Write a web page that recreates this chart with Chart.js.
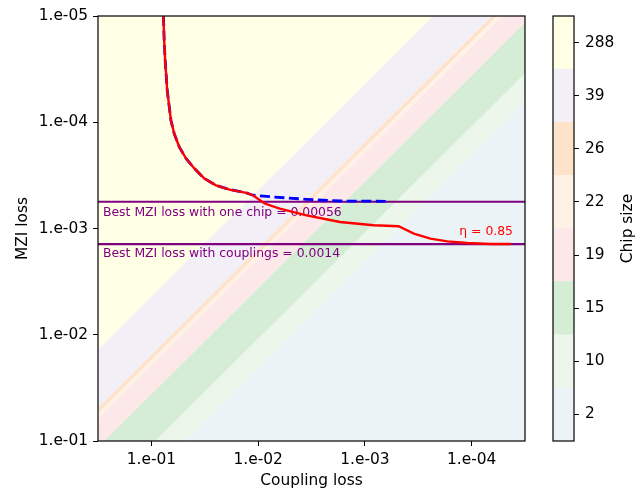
<!DOCTYPE html>
<html>
<head>
<meta charset="utf-8">
<title>Chip size vs losses</title>
<script src="https://cdn.jsdelivr.net/npm/chart.js@4.4.1/dist/chart.umd.min.js"></script>
<style>
  body { margin: 0; background: #fff; }
  #wrap { position: relative; width: 636px; height: 495px; }
  #lossChart { position: absolute; left: 0; top: 0; }
  #barChart { position: absolute; left: 540px; top: 0; }
</style>
</head>
<body>
<div id="wrap">
  <canvas id="lossChart" width="540" height="495"></canvas>
  <canvas id="barChart" width="96" height="495"></canvas>
</div>
<script>
// chip size levels, bottom to top of the colour bar
const chipLevels = [2, 10, 15, 19, 22, 26, 39, 288];
const levelColors = ['#ebf3f7', '#ecf6ea', '#d5ecd5', '#fce8e8', '#fef2e6', '#fee2ca', '#f3eff7', '#ffffe6'];
// log10(MZI loss / coupling loss) where the chip size steps from one level to the next
const levelEdges = [0.31, 0.04, -0.44, -0.71, -0.76, -0.81, -1.36];

// eta = 0.85 curve
const curveCoupling = [0.0771, 0.0759, 0.0743, 0.0711, 0.0656, 0.0611, 0.0548, 0.0474, 0.0396, 0.0319,
  0.0248, 0.0185, 0.0129, 0.0112, 0.00869, 0.00627, 0.00352, 0.00171, 0.00083, 0.000483,
  0.000348, 0.000243, 0.000169, 0.00011, 0.0000661, 0.0000429];
const curveMzi = [1.0e-5, 1.68e-5, 2.6e-5, 4.98e-5, 9.57e-5, 1.28e-4, 1.71e-4, 2.19e-4, 2.72e-4, 3.38e-4,
  3.92e-4, 4.30e-4, 4.62e-4, 4.86e-4, 5.82e-4, 6.49e-4, 7.52e-4, 8.69e-4, 9.33e-4, 9.53e-4,
  1.117e-3, 1.245e-3, 1.321e-3, 1.371e-3, 1.40e-3, 1.40e-3];
// single chip branch
const chipCoupling = [0.0771, 0.0759, 0.0743, 0.0711, 0.0656, 0.0611, 0.0548, 0.0474, 0.0396, 0.0319,
  0.0248, 0.0185, 0.0129, 0.0112, 0.00726, 0.00352, 0.00171, 0.000621];
const chipMzi = [1.0e-5, 1.68e-5, 2.6e-5, 4.98e-5, 9.57e-5, 1.28e-4, 1.71e-4, 2.19e-4, 2.72e-4, 3.38e-4,
  3.92e-4, 4.30e-4, 4.62e-4, 4.86e-4, 5.05e-4, 5.31e-4, 5.51e-4, 5.55e-4];

const bestOneChip = 0.00056;
const bestCouplings = 0.0014;
const eta = 0.85;

const xTickValues = [1e-1, 1e-2, 1e-3, 1e-4];
const xTickLabels = ['1.e-01', '1.e-02', '1.e-03', '1.e-04'];
const yTickValues = [1e-5, 1e-4, 1e-3, 1e-2, 1e-1];
const yTickLabels = ['1.e-05', '1.e-04', '1.e-03', '1.e-02', '1.e-01'];

const xMin = 10 ** -4.5, xMax = 10 ** -0.5;
const yMin = 1e-5, yMax = 1e-1;

Chart.defaults.font.family = '"DejaVu Sans", sans-serif';
Chart.defaults.font.size = 15.4;
Chart.defaults.color = '#000';

const pts = (xs, ys) => xs.map((x, i) => ({ x, y: ys[i] }));
// straight edge y = 10^d * x, reaching well past the axes
const edgeLine = d => [1e-6, 10].map(x => ({ x, y: x * 10 ** d }));

const bands = [];
levelEdges.forEach((d, i) => {
  bands.push({
    label: 'level ' + chipLevels[i],
    data: edgeLine(d),
    fill: i === 0 ? 'start' : '-1',
    backgroundColor: levelColors[i],
    borderColor: 'rgba(0,0,0,0)',
    borderWidth: 1,
    pointRadius: 0,
    order: 5
  });
});
bands.push({
  label: 'level ' + chipLevels[chipLevels.length - 1],
  data: edgeLine(levelEdges[levelEdges.length - 1]),
  fill: 'end',
  backgroundColor: levelColors[levelColors.length - 1],
  borderColor: 'rgba(0,0,0,0)',
  borderWidth: 1,
  pointRadius: 0,
  order: 5
});

const flatLine = v => [{ x: xMin, y: v }, { x: xMax, y: v }];

const notes = {
  id: 'notes',
  beforeDatasetDraw(chart, args) {
    if (chart.data.datasets[args.index].label !== 'one chip') return;
    const { ctx, chartArea: a, scales: { y } } = chart;
    ctx.save();
    ctx.font = '12.4px "DejaVu Sans"';
    ctx.textBaseline = 'middle';
    ctx.textAlign = 'left';
    ctx.fillStyle = 'purple';
    ctx.fillText('Best MZI loss with one chip = ' + bestOneChip, a.left + 5, y.getPixelForValue(bestOneChip) + 11);
    ctx.fillText('Best MZI loss with couplings = ' + bestCouplings, a.left + 5, y.getPixelForValue(bestCouplings) + 10);
    ctx.textAlign = 'right';
    ctx.fillStyle = 'red';
    ctx.fillText('η = ' + eta, a.right - 12, y.getPixelForValue(bestCouplings) - 12.5);
    ctx.restore();
  },
  afterDatasetsDraw(chart) {
    const { ctx, chartArea: a } = chart;
    ctx.save();
    ctx.strokeStyle = '#000';
    ctx.lineWidth = 1.2;
    ctx.strokeRect(a.left, a.top, a.right - a.left, a.bottom - a.top);
    ctx.restore();
  }
};

new Chart(document.getElementById('lossChart'), {
  type: 'line',
  data: {
    datasets: [
      {
        label: 'eta curve',
        data: pts(curveCoupling, curveMzi),
        borderColor: 'red',
        borderWidth: 2.4,
        pointRadius: 0,
        fill: false,
        order: 0
      },
      {
        label: 'one chip',
        data: pts(chipCoupling, chipMzi),
        borderColor: 'blue',
        borderWidth: 2.8,
        borderDash: [10, 4.5],
        pointRadius: 0,
        fill: false,
        order: 1
      },
      {
        label: 'best one chip',
        data: flatLine(bestOneChip),
        borderColor: 'purple',
        borderWidth: 2.2,
        pointRadius: 0,
        fill: false,
        order: 2
      },
      {
        label: 'best couplings',
        data: flatLine(bestCouplings),
        borderColor: 'purple',
        borderWidth: 2.2,
        pointRadius: 0,
        fill: false,
        order: 2
      },
      ...bands
    ]
  },
  options: {
    responsive: false,
    animation: false,
    layout: { padding: { left: 0, right: 15, top: 16, bottom: 0 } },
    plugins: { legend: { display: false }, tooltip: { enabled: false } },
    scales: {
      x: {
        type: 'logarithmic',
        reverse: true,
        min: xMin,
        max: xMax,
        afterBuildTicks: s => { s.ticks = xTickValues.map(v => ({ value: v })); },
        afterFit: s => { s.height = 54; },
        ticks: { callback: (v, i) => xTickLabels[i], padding: 5, maxRotation: 0, autoSkip: false },
        grid: { drawOnChartArea: false, tickLength: 5, color: '#000' },
        border: { display: false },
        title: { display: true, text: 'Coupling loss', padding: { top: 0, bottom: 5 } }
      },
      y: {
        type: 'logarithmic',
        reverse: true,
        min: yMin,
        max: yMax,
        afterBuildTicks: s => { s.ticks = yTickValues.map(v => ({ value: v })); },
        afterFit: s => { s.width = 98; },
        ticks: { callback: (v, i) => yTickLabels[i], padding: 5, autoSkip: false },
        grid: { drawOnChartArea: false, tickLength: 5, color: '#000' },
        border: { display: false },
        title: { display: true, text: 'MZI loss', padding: { top: 14, bottom: 0 } }
      }
    }
  },
  plugins: [notes]
});

// colour bar for the chip size levels
const barFrame = {
  id: 'barFrame',
  afterDatasetsDraw(chart) {
    const { ctx, chartArea: a } = chart;
    ctx.save();
    ctx.strokeStyle = '#000';
    ctx.lineWidth = 1.2;
    ctx.strokeRect(a.left, a.top, a.right - a.left, a.bottom - a.top);
    ctx.translate(88, (a.top + a.bottom) / 2);
    ctx.rotate(-Math.PI / 2);
    ctx.font = '15.4px "DejaVu Sans"';
    ctx.fillStyle = '#000';
    ctx.textAlign = 'center';
    ctx.textBaseline = 'middle';
    ctx.fillText('Chip size', 0, 0);
    ctx.restore();
  }
};

new Chart(document.getElementById('barChart'), {
  type: 'bar',
  data: {
    labels: [''],
    datasets: chipLevels.map((lvl, i) => ({
      label: String(lvl),
      data: [1],
      backgroundColor: levelColors[i],
      borderWidth: 0,
      barPercentage: 1,
      categoryPercentage: 1
    }))
  },
  options: {
    responsive: false,
    animation: false,
    layout: { padding: { left: 13, right: 0, top: 16, bottom: 54 } },
    plugins: { legend: { display: false }, tooltip: { enabled: false } },
    scales: {
      x: { stacked: true, display: false },
      y: {
        stacked: true,
        position: 'right',
        min: 0,
        max: chipLevels.length,
        afterBuildTicks: s => { s.ticks = chipLevels.map((_, i) => ({ value: i + 0.5 })); },
        afterFit: s => { s.width = 62; },
        ticks: { callback: (v, i) => chipLevels[i], padding: 6 },
        grid: { drawOnChartArea: false, tickLength: 5, color: '#000' },
        border: { display: false }
      }
    }
  },
  plugins: [barFrame]
});
</script>
</body>
</html>
